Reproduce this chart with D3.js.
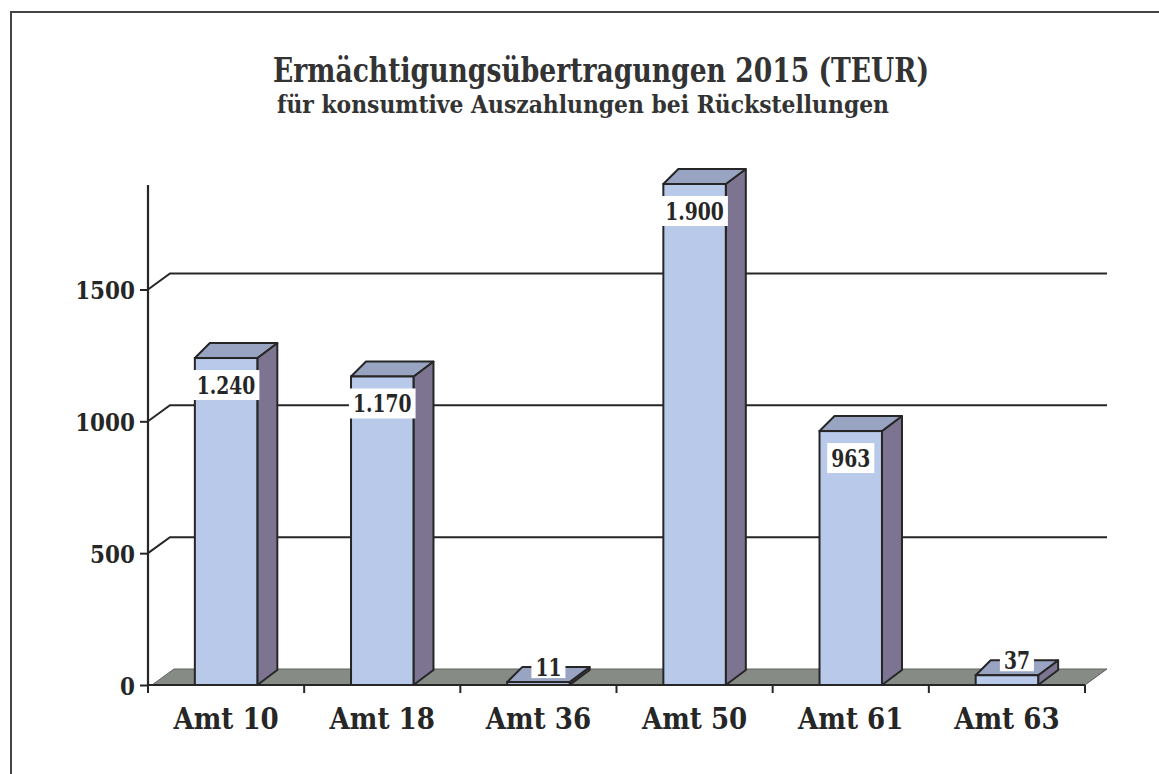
<!DOCTYPE html>
<html><head><meta charset="utf-8">
<script src="https://cdn.jsdelivr.net/npm/d3@7"></script>
<style>html,body{margin:0;padding:0;background:#fff;}svg{display:block;}</style>
</head><body>
<svg id="c" width="1159" height="774"></svg>
<script>
const categories = ["Amt 10","Amt 18","Amt 36","Amt 50","Amt 61","Amt 63"];
const values = [1240, 1170, 11, 1900, 963, 37];
const valueLabels = ["1.240","1.170","11","1.900","963","37"];
const yTicks = [0, 500, 1000, 1500];
const titleText = "Ermächtigungsübertragungen 2015 (TEUR)";
const subtitleText = "für konsumtive Auszahlungen bei Rückstellungen";

const svg = d3.select("#c");
const FONT = "'DejaVu Serif', serif";
const ink = "#262626";

function condense(sel, k){
  sel.each(function(){
    const w = this.getComputedTextLength();
    d3.select(this).attr("textLength", w*k).attr("lengthAdjust","spacingAndGlyphs");
  });
}

// frame
svg.append("rect").attr("x",11).attr("y",12).attr("width",1160).attr("height",780)
  .attr("fill","#fff").attr("stroke","#444").attr("stroke-width",2);

const x = d3.scaleBand().domain(categories).range([148,1085]).padding(0);
const y = d3.scaleLinear().domain([0,1900]).range([685,184]);
const wdx = 22, wdy = -16;   // wall depth
const bdx = 20, bdy = -15;   // bar depth

// floor
const y0 = y(0);
svg.append("polygon")
  .attr("points", [[152,y0],[1085,y0],[1085+wdx,y0+wdy],[152+wdx,y0+wdy]].map(p=>p.join(",")).join(" "))
  .attr("fill","#868c85").attr("stroke","#5e625d").attr("stroke-width",1);

// gridlines on back wall
yTicks.filter(t=>t>0).forEach(t=>{
  const yy = y(t);
  svg.append("path")
    .attr("d", `M148,${yy}L${148+wdx},${yy+wdy}L${1085+wdx},${yy+wdy}`)
    .attr("fill","none").attr("stroke",ink).attr("stroke-width",2);
});

// y axis
const yAxis = d3.axisLeft(y).tickValues(yTicks).tickSize(8).tickFormat(d3.format("d"));
const gy = svg.append("g").attr("transform","translate(148,0)").call(yAxis);
gy.select(".domain").attr("stroke",ink).attr("stroke-width",2.2).attr("d","M0,685V185");
gy.selectAll(".tick line").attr("stroke",ink).attr("stroke-width",2);
gy.selectAll(".tick text").attr("font-family",FONT).attr("font-weight","bold")
  .attr("font-size",25).attr("fill",ink).attr("x",-13).attr("dy","0.36em");
condense(gy.selectAll(".tick text"), 0.86);

// x axis
const gx = svg.append("g").attr("transform",`translate(0,${y0})`);
gx.append("line").attr("x1",148).attr("x2",1085).attr("y1",0).attr("y2",0).attr("stroke",ink).attr("stroke-width",2.2);
const bounds = categories.map(c=>x(c)).concat([x(categories[categories.length-1])+x.bandwidth()]);
gx.selectAll("line.tk").data(bounds).join("line").attr("class","tk")
  .attr("x1",d=>d).attr("x2",d=>d).attr("y1",0).attr("y2",8).attr("stroke",ink).attr("stroke-width",2);
const catText = gx.selectAll("text").data(categories).join("text")
  .attr("x",d=>x(d)+x.bandwidth()/2).attr("y",44)
  .attr("text-anchor","middle").attr("font-family",FONT).attr("font-weight","bold")
  .attr("font-size",29).attr("fill",ink).text(d=>d);
condense(catText, 0.9);

// bars
const bw = x.bandwidth()*0.4;
const data = categories.map((c,i)=>({c, v:values[i], lab:valueLabels[i]}));
const bars = svg.append("g");
data.forEach(d=>{
  const cx = x(d.c)+x.bandwidth()/2;
  const xl = cx - bw/2, xr = cx + bw/2;
  const yt = y(d.v), yb = y0;
  const g = bars.append("g");
  g.append("polygon").attr("points",[[xr,yb],[xr,yt],[xr+bdx,yt+bdy],[xr+bdx,yb+bdy]].map(p=>p.join(",")).join(" "))
    .attr("fill","#7c7491").attr("stroke",ink).attr("stroke-width",2).attr("stroke-linejoin","round");
  g.append("polygon").attr("points",[[xl,yt],[xr,yt],[xr+bdx,yt+bdy],[xl+bdx-5,yt+bdy]].map(p=>p.join(",")).join(" "))
    .attr("fill","#99a4c3").attr("stroke",ink).attr("stroke-width",2).attr("stroke-linejoin","round");
  g.append("rect").attr("x",xl).attr("y",yt).attr("width",bw).attr("height",yb-yt)
    .attr("fill","#b9c9e9").attr("stroke",ink).attr("stroke-width",2);
});

// data labels
data.forEach(d=>{
  const cx = x(d.c)+x.bandwidth()/2;
  const yt = y(d.v);
  const inside = (y0-yt) > 60;
  const lx = inside ? cx : cx + bdx/2;
  const cy = inside ? yt + 27 : yt + bdy;
  const t = svg.append("text").attr("x",lx).attr("y",cy).attr("dy","0.36em")
    .attr("text-anchor","middle").attr("font-family",FONT).attr("font-weight","bold")
    .attr("font-size",24).attr("fill",ink).text(d.lab);
  condense(t, 0.78);
  const bb = t.node().getBBox();
  svg.insert("rect", () => t.node()).attr("x",bb.x-4).attr("y",cy-(inside?15:11)).attr("width",bb.width+8).attr("height",inside?30:22).attr("fill","#fff");
});

// titles
svg.append("text").attr("x",601).attr("y",82).attr("text-anchor","middle")
  .attr("font-family",FONT).attr("font-weight","bold").attr("font-size",33).attr("fill","#333")
  .attr("textLength",656).attr("lengthAdjust","spacingAndGlyphs").text(titleText);
svg.append("text").attr("x",583).attr("y",113).attr("text-anchor","middle")
  .attr("font-family",FONT).attr("font-weight","bold").attr("font-size",24).attr("fill","#333")
  .attr("textLength",612).attr("lengthAdjust","spacingAndGlyphs").text(subtitleText);
</script>
</body></html>
